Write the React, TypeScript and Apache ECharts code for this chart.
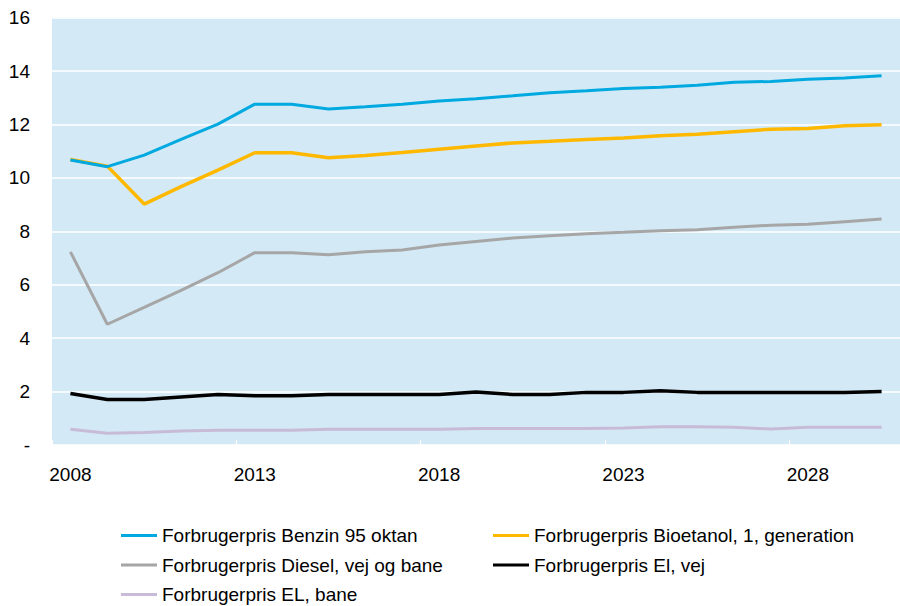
import React, { useEffect, useRef } from "react";
import * as echarts from "echarts";

const years = [
  "2008", "2009", "2010", "2011", "2012", "2013", "2014", "2015", "2016", "2017", "2018", "2019",
  "2020", "2021", "2022", "2023", "2024", "2025", "2026", "2027", "2028", "2029", "2030",
];

const benzin = [10.67, 10.42, 10.85, 11.44, 12.01, 12.76, 12.76, 12.58, 12.66, 12.76, 12.88, 12.96, 13.07, 13.19, 13.26, 13.35, 13.39, 13.47, 13.58, 13.61, 13.69, 13.74, 13.82];
const bioetanol = [10.69, 10.44, 9.02, 9.67, 10.29, 10.94, 10.94, 10.75, 10.84, 10.95, 11.07, 11.19, 11.31, 11.37, 11.44, 11.49, 11.58, 11.63, 11.73, 11.82, 11.85, 11.95, 11.99];
const diesel = [7.23, 4.52, 5.15, 5.79, 6.45, 7.2, 7.2, 7.12, 7.23, 7.3, 7.49, 7.62, 7.75, 7.83, 7.91, 7.96, 8.02, 8.06, 8.15, 8.23, 8.26, 8.36, 8.46];
const elVej = [1.93, 1.7, 1.7, 1.8, 1.89, 1.84, 1.84, 1.89, 1.89, 1.89, 1.89, 1.98, 1.89, 1.89, 1.97, 1.97, 2.03, 1.97, 1.97, 1.97, 1.97, 1.97, 2.0];
const elBane = [0.59, 0.44, 0.47, 0.52, 0.55, 0.55, 0.55, 0.59, 0.59, 0.59, 0.59, 0.62, 0.62, 0.62, 0.62, 0.64, 0.68, 0.68, 0.66, 0.6, 0.66, 0.66, 0.66];

const names = [
  "Forbrugerpris Benzin 95 oktan",
  "Forbrugerpris Bioetanol, 1, generation",
  "Forbrugerpris Diesel, vej og bane",
  "Forbrugerpris El, vej",
  "Forbrugerpris EL, bane",
];
const colors = ["#00A9E0", "#FFB800", "#A6A6A6", "#000000", "#C8BBD8"];
const widths = [3, 3.5, 3, 3.5, 3];
const seriesData = [benzin, bioetanol, diesel, elVej, elBane];

const FONT = "'Liberation Sans', Arial, sans-serif";

export default function App() {
  const ref = useRef<HTMLDivElement>(null);
  useEffect(() => {
    if (!ref.current) return;
    const chart = echarts.init(ref.current, null, { renderer: "svg" });
    const legendCommon = {
      orient: "vertical",
      top: 526,
      itemWidth: 36,
      itemHeight: 3,
      itemGap: 10.5,
      icon: "rect",
      textStyle: { fontFamily: FONT, fontSize: 19, color: "#000", padding: [0, 0, 0, 0] },
      padding: 0,
      selectedMode: false,
    };
    chart.setOption({
      animation: false,
      backgroundColor: "#ffffff",
      textStyle: { fontFamily: FONT },
      grid: {
        left: 52,
        top: 17.6,
        bottom: 161,
        right: -14.5,
        show: true,
        backgroundColor: "#D3E9F6",
        borderWidth: 0,
        containLabel: false,
      },
      legend: [
        { ...legendCommon, left: 121, data: [names[0], names[2], names[4]] },
        { ...legendCommon, left: 493, data: [names[1], names[3]] },
      ],
      xAxis: {
        type: "category",
        data: years,
        boundaryGap: true,
        axisLine: { show: true, lineStyle: { color: "#ffffff", width: 1 } },
        axisTick: { show: true, inside: true, length: 5, interval: 4, lineStyle: { color: "#ffffff", width: 1 } },
        axisLabel: { interval: 4, margin: 20, fontSize: 19, color: "#000", fontFamily: FONT },
        splitLine: { show: false },
      },
      yAxis: {
        type: "value",
        min: 0,
        max: 16,
        interval: 2,
        axisLine: { show: false },
        axisTick: { show: false },
        axisLabel: {
          margin: 22,
          fontSize: 19,
          color: "#000",
          fontFamily: FONT,
          formatter: (v: number) => (v === 0 ? "-" : String(v)),
        },
        splitLine: { show: true, lineStyle: { color: "#ffffff", width: 1.5 } },
      },
      series: seriesData.map((d, i) => ({
        name: names[i],
        type: "line",
        data: d,
        symbol: "none",
        color: colors[i],
        lineStyle: { color: colors[i], width: widths[i] },
        z: 10 - i,
      })),
    });
    return () => chart.dispose();
  }, []);
  return (
    <div
      ref={ref}
      style={{ position: "fixed", left: 0, top: 0, width: 900, height: 606 }}
    />
  );
}
